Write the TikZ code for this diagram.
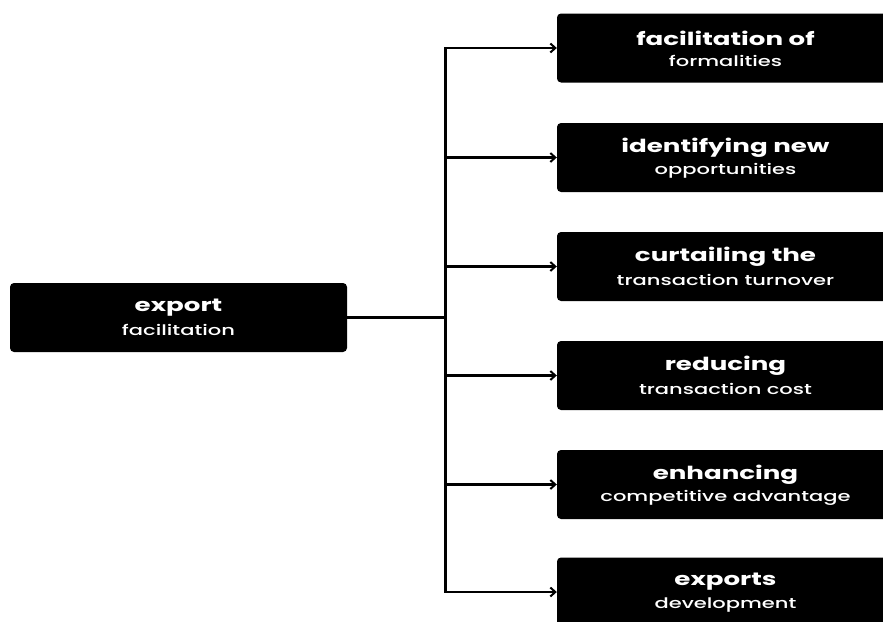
\documentclass[tikz,border=0pt]{standalone}
\usepackage{graphicx}
\usepackage{fontspec}
\setmainfont{Poppins}
\newfontfamily\subfont[UprightFont=*-Medium]{Poppins}
\usetikzlibrary{arrows.meta}
\newcommand\stretchtxt[1]{\scalebox{1.45}[1]{#1}}
\begin{document}
\begin{tikzpicture}[x=1pt,y=-1pt,
  box/.style={fill=black, rounded corners=4pt, minimum width=337pt, minimum height=69pt, inner sep=0pt, draw=none},
  head/.style={text=white, font=\fontsize{18}{18}\selectfont\bfseries, inner sep=0pt},
  sub/.style={text=white, font=\fontsize{14.5}{14.5}\subfont, inner sep=0pt},
  conn/.style={line width=2.6pt, draw=black},
  arr/.style={conn, -{Straight Barb[length=5pt,width=9pt,line width=2pt]}}]
\useasboundingbox (0,0) rectangle (883,621);
\clip (0,0) rectangle (883,621);
\fill[white] (0,0) rectangle (883,621);

% source
\node[box] (src) at (178.5,317.5) {};
\node[head] (srcA) at (178.5,308) {\stretchtxt{export}};
\node[sub] (srcB) at (178.5,330) {\stretchtxt{facilitation}};

% targets
\node[box] (t1) at (725.5,48) {};
\node[head] (t1a) at (725.5,38) {\stretchtxt{facilitation of}};
\node[sub] (t1b) at (725.5,61) {\stretchtxt{formalities}};

\node[box] (t2) at (725.5,157.5) {};
\node[head] (t2a) at (725.5,147.5) {\stretchtxt{identifying new}};
\node[sub] (t2b) at (725.5,170.5) {\stretchtxt{opportunities}};

\node[box] (t3) at (725.5,266.5) {};
\node[head] (t3a) at (725.5,256.5) {\stretchtxt{curtailing the}};
\node[sub] (t3b) at (725.5,279.5) {\stretchtxt{transaction turnover}};

\node[box] (t4) at (725.5,375.5) {};
\node[head] (t4a) at (725.5,365.5) {\stretchtxt{reducing}};
\node[sub] (t4b) at (725.5,388.5) {\stretchtxt{transaction cost}};

\node[box] (t5) at (725.5,484.5) {};
\node[head] (t5a) at (725.5,474.5) {\stretchtxt{enhancing}};
\node[sub] (t5b) at (725.5,497.5) {\stretchtxt{competitive advantage}};

\node[box] (t6) at (725.5,592) {};
\node[head] (t6a) at (725.5,582) {\stretchtxt{exports}};
\node[sub] (t6b) at (725.5,605) {\stretchtxt{development}};

% connectors
\coordinate (tTop) at (445.5,48);
\coordinate (tBot) at (445.5,592);
\draw[conn, line cap=rect] (tTop) -- (tBot);
\draw[conn] (src.east) -- (src.east -| tTop);
\foreach \t in {t1,t2,t3,t4,t5,t6}{
  \draw[arr] (\t.west -| tTop) -- (\t.west);
}
\end{tikzpicture}
\end{document}
